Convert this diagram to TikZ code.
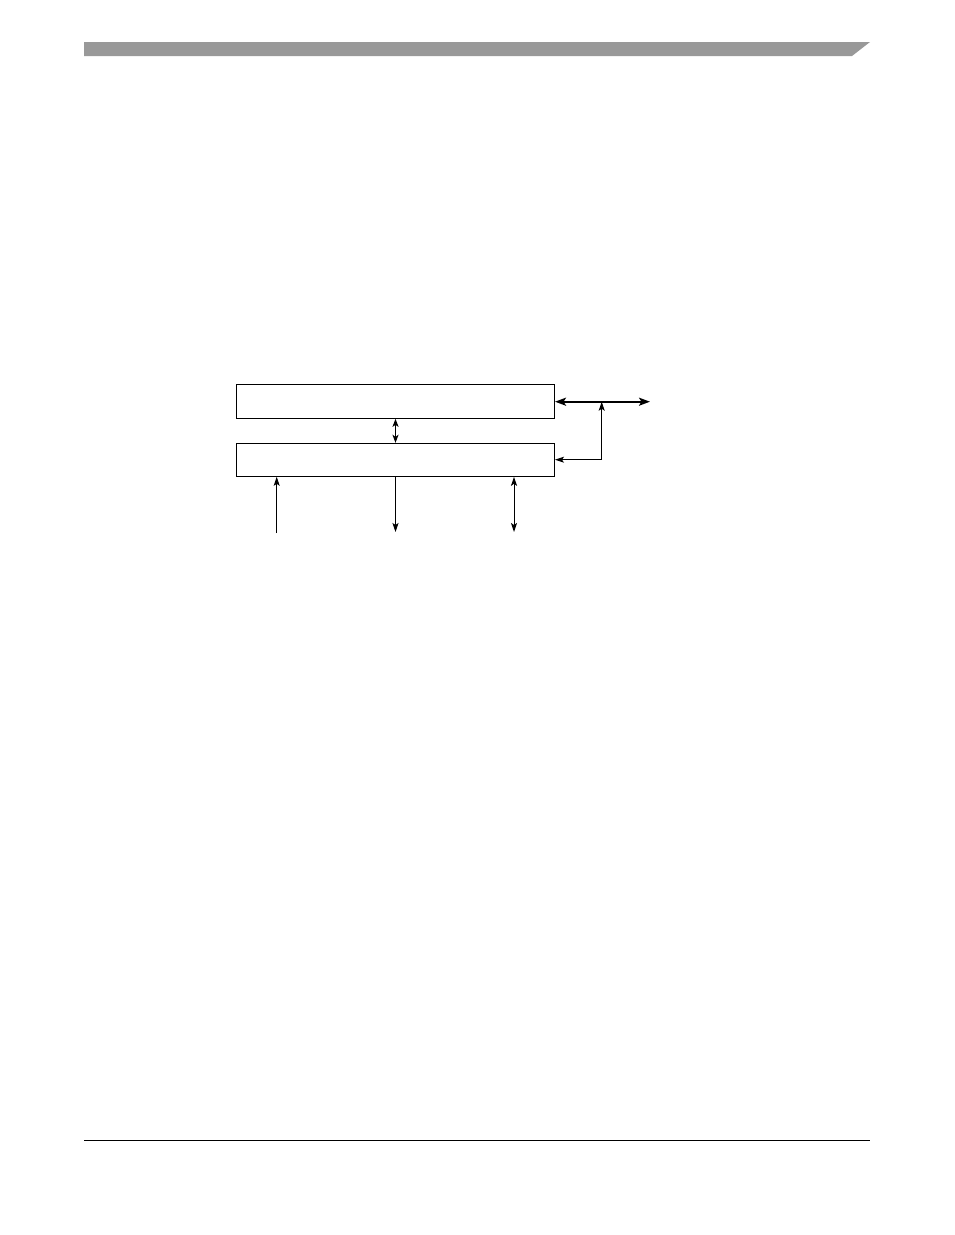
\documentclass[tikz,border=0pt]{standalone}
\usetikzlibrary{arrows.meta}
\begin{document}
\begin{tikzpicture}[x=1pt,y=-1pt,
  blk/.style={draw,line width=1pt,minimum width=318pt,minimum height=34pt,inner sep=0pt},
  conn/.style={line width=1pt,-{Stealth[length=9pt,width=6pt,inset=2pt]}},
  dconn/.style={line width=1pt,{Stealth[length=9pt,width=6pt,inset=2pt]}-{Stealth[length=9pt,width=6pt,inset=2pt]}},
  mconn/.style={line width=1.6pt,{Stealth[length=8pt,width=6pt,inset=2pt]}-{Stealth[length=8pt,width=6pt,inset=2pt]}},
  thk/.style={line width=2pt,{Stealth[length=11pt,width=8pt,inset=2.5pt]}-{Stealth[length=11pt,width=8pt,inset=2.5pt]}}]
\useasboundingbox (0,0) rectangle (954,1235);
\fill[white] (0,0) rectangle (954,1235);
% header bar
\fill[fill={rgb,255:red,153;green,153;blue,153}] (84,42) -- (870,42) -- (852,56) -- (84,56) -- cycle;
% footer line
\draw[line width=1pt] (84,1140) -- (870,1140);
% blocks
\node[blk] (top) at (395.5,401.3) {};
\node[blk,minimum height=33pt] (bot) at (395.5,459.8) {};
% middle link
\draw[mconn] (top.south) -- (bot.north);
% right bus
\coordinate (busend) at (650,401.7);
\coordinate (jn) at (601.7,401.7);
\coordinate (jnb) at (601.7,459.7);
\draw[thk] (top.east |- busend) -- (busend);
\draw[conn] (jnb) -- (jn);
\draw[conn] (jnb) -- (bot.east |- jnb);
% bottom connectors
\coordinate (b1) at (276.7,533);
\coordinate (b2) at (395.5,532);
\coordinate (b3) at (514,532);
\draw[conn] (b1) -- (bot.south -| b1);
\draw[conn] (bot.south -| b2) -- (b2);
\draw[dconn] (bot.south -| b3) -- (b3);
\end{tikzpicture}
\end{document}
